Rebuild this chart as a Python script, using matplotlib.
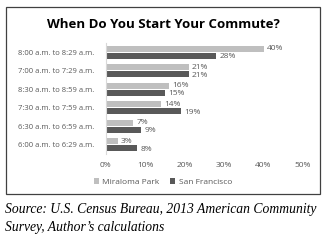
import matplotlib
matplotlib.use("Agg")
import matplotlib.pyplot as plt
from matplotlib.patches import Rectangle
import numpy as np

categories = ["8:00 a.m. to 8:29 a.m.", "7:00 a.m. to 7:29 a.m.", "8:30 a.m. to 8:59 a.m.",
              "7:30 a.m. to 7:59 a.m.", "6:30 a.m. to 6:59 a.m.", "6:00 a.m. to 6:29 a.m."]
miraloma = [40, 21, 16, 14, 7, 3]
sanfran = [28, 21, 15, 19, 9, 8]
xticks = [0, 10, 20, 30, 40, 50]
series_names = ["Miraloma Park", "San Francisco"]

light = "#BFBFBF"
dark = "#595959"
txt = "#595959"
font = "Open Sans"

fig = plt.figure(figsize=(3.27, 2.41), dpi=100)
# frame
fig.patches.append(Rectangle((6/327, 1-194/241), (320-6)/327, (194-7)/241,
                             transform=fig.transFigure, fill=False, edgecolor="#404040", lw=0.9))
ax = fig.add_axes([105.7/327, 1-154/241, (303-105.7)/327, (154-43)/241])
y = np.arange(len(categories))
h = 0.33
off = 0.18
ax.barh(y - off, miraloma, height=h, color=light, label=series_names[0])
ax.barh(y + off, sanfran, height=h, color=dark, label=series_names[1])
for i in range(len(categories)):
    ax.text(miraloma[i] + 0.9, y[i] - off, f"{miraloma[i]}%", va="center", ha="left",
            fontsize=6, color=txt, family=font)
    ax.text(sanfran[i] + 0.9, y[i] + off + 0.05, f"{sanfran[i]}%", va="center", ha="left",
            fontsize=6, color=txt, family=font)
ax.set_ylim(len(categories) - 0.5, -0.5)
ax.set_xlim(0, 50)
ax.set_yticks(y)
ax.set_yticklabels(categories, fontsize=5.5, color=txt, family=font)
ax.set_xticks(xticks)
ax.set_xticklabels([f"{t}%" for t in xticks], fontsize=6, color=txt, family=font)
ax.tick_params(axis="both", length=0)
ax.tick_params(axis="y", pad=8)
ax.tick_params(axis="x", pad=6)
for s in ["top", "right", "bottom"]:
    ax.spines[s].set_visible(False)
ax.spines["left"].set_color("#D9D9D9")
ax.spines["left"].set_linewidth(0.8)

fig.text(163/327, 1-25/241, "When Do You Start Your Commute?", ha="center", va="center",
         fontsize=9.5, fontweight="bold", family=font, color="#000000")

leg = fig.legend(loc="center", bbox_to_anchor=(163/327, 1-182/241), ncol=2, frameon=False,
                 handlelength=0.6, handleheight=0.6, handletextpad=0.4,
                 columnspacing=1.3, prop={"family": font, "size": 6})
for t in leg.get_texts():
    t.set_color(txt)

fig.text(5/327, 1-210/241, "Source: U.S. Census Bureau, 2013 American Community", ha="left",
         va="center", fontsize=9.8, style="italic", family="Liberation Serif")
fig.text(5/327, 1-227/241, "Survey, Author\u2019s calculations", ha="left",
         va="center", fontsize=9.8, style="italic", family="Liberation Serif")

fig.savefig("out.png", dpi=100)
